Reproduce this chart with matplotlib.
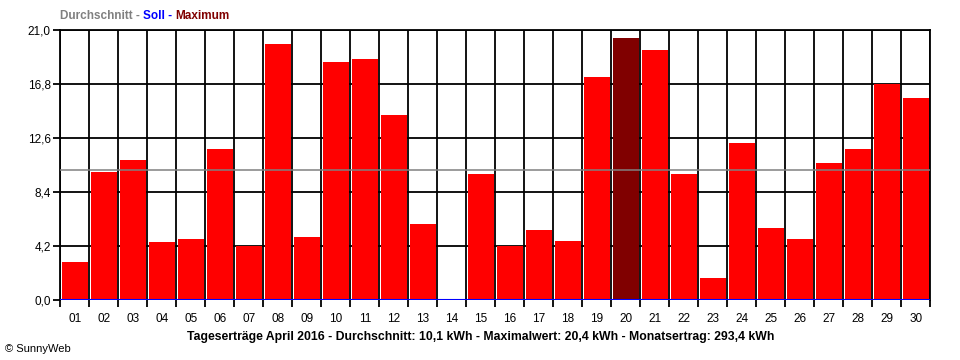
import matplotlib
matplotlib.use('Agg')
import matplotlib.pyplot as plt
from matplotlib.ticker import FixedLocator

days = ['%02d' % d for d in range(1, 31)]
ertrag = [3.0, 10.0, 10.9, 4.5, 4.8, 11.8, 4.2, 19.9, 4.9, 18.5,
          18.8, 14.4, 5.9, 0.0, 9.8, 4.2, 5.5, 4.6, 17.4, 20.4,
          19.5, 9.8, 1.7, 12.2, 5.6, 4.8, 10.7, 11.8, 16.8, 15.7]
durchschnitt = 10.1
soll = 0.0
yticks = [0.0, 4.2, 8.4, 12.6, 16.8, 21.0]

plt.rcParams['font.family'] = ['Liberation Sans', 'DejaVu Sans']

fig = plt.figure(figsize=(9.6, 3.6), dpi=100)
ax = fig.add_axes([60.3 / 960, 59.7 / 360, 870 / 960, 270 / 360])

x = list(range(1, 31))
mx = max(ertrag)
colors = ['#800000' if v == mx else '#ff0000' for v in ertrag]
ax.bar(x, ertrag, width=0.91, color=colors, zorder=2)

ax.axhline(durchschnitt, color='#808080', lw=1.1, zorder=3)
ax.axhline(soll, color='#0000ff', lw=1.5, zorder=4)

ax.set_xlim(0.5, 30.5)
ax.set_ylim(0, 21)

# vertical lines between days, horizontal grid at y ticks
ax.xaxis.set_major_locator(FixedLocator(x))
ax.set_xticklabels(days)
ax.xaxis.set_minor_locator(FixedLocator([i + 0.5 for i in range(0, 31)]))
ax.grid(which='minor', axis='x', color='black', lw=1.3, zorder=1)
ax.set_yticks(yticks)
ax.set_yticklabels([('%.1f' % v).replace('.', ',') for v in yticks])
ax.grid(which='major', axis='y', color='black', lw=1.3, zorder=1)
ax.set_axisbelow(True)

ax.tick_params(axis='x', which='major', length=0, pad=9, labelsize=8.5)
ax.tick_params(axis='x', which='minor', length=5, width=1.3, direction='out')
ax.tick_params(axis='y', length=5, width=1.3, direction='out', labelsize=8.5, pad=2)

for s in ['top', 'left', 'right']:
    ax.spines[s].set_color('black')
    ax.spines[s].set_linewidth(1.3)
ax.spines['bottom'].set_visible(False)

# legend line at top, pieces chained one after the other
t1 = fig.text(60 / 960, 1 - 16 / 360, 'Durchschnitt - ', color='#808080',
              fontsize=8.5, fontweight='bold', va='center')
t2 = ax.annotate('Soll - ', xy=(1, 0.5), xycoords=t1, va='center',
                 color='#0000ff', fontsize=8.5, fontweight='bold')
ax.annotate('Maximum', xy=(1, 0.5), xycoords=t2, va='center',
            color='#800000', fontsize=8.5, fontweight='bold')

fig.text(481 / 960, 1 - 337 / 360,
         'Tageserträge April 2016 - Durchschnitt: 10,1 kWh - Maximalwert: 20,4 kWh - Monatsertrag: 293,4 kWh',
         ha='center', va='center', fontsize=8.8, fontweight='bold')
fig.text(5 / 960, 1 - 349 / 360, '© SunnyWeb', fontsize=8, va='center')

fig.savefig('out.png', dpi=100)
